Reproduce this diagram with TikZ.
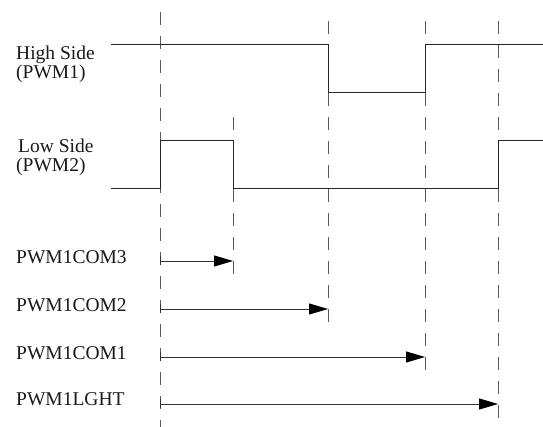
\documentclass[tikz,border=0pt]{standalone}
\usepackage{fontspec}
\setmainfont{Liberation Serif}
\usetikzlibrary{arrows.meta}
\begin{document}
\begin{tikzpicture}[x=1pt,y=1pt,
 sig/.style={line width=1pt, color=black!85},
 guide/.style={line width=1pt, color=black!65, dash pattern=on 13pt off 11pt},
 lbl/.style={font=\fontsize{19.5}{18.7}\selectfont, anchor=base west, inner sep=0pt, color=black!90},
 span/.style={line width=0.9pt, color=black!80, {Bar[width=9pt]}-{Triangle[length=19pt,width=11pt,color=black]}}]
\useasboundingbox (0,0) rectangle (543,427);
% guide lines
\coordinate (g1t) at (160,415); \coordinate (g1b) at (160,0);
\coordinate (g2t) at (233,310); \coordinate (g2b) at (233,142);
\coordinate (g3t) at (328,406); \coordinate (g3b) at (328,94);
\coordinate (g4t) at (425,406); \coordinate (g4b) at (425,47);
\coordinate (g5t) at (498,406); \coordinate (g5b) at (498,0);
\draw[guide] (g1t) -- (g1b);
\draw[guide] (g2t) -- (g2b);
\draw[guide] (g3t) -- (g3b);
\draw[guide] (g4t) -- (g4b);
\draw[guide] (g5t) -- (g5b);
% labels
\node[lbl] (hs) at (16,367) {High Side};
\node[lbl] (hs2) at (16,348.3) {(PWM1)};
\node[lbl] (ls) at (18,274.3) {Low Side};
\node[lbl] (ls2) at (16,255.3) {(PWM2)};
\node[lbl] (c3) at (16,163.7) {PWM1COM3};
\node[lbl] (c2) at (16,115.3) {PWM1COM2};
\node[lbl] (c1) at (16,67.7) {PWM1COM1};
\node[lbl] (lg) at (16,21.3) {PWM1LGHT};
% high side waveform
\coordinate (h0) at (111,382);
\draw[sig] (h0) -- (328,382) -- (328,334) -- (425,334) -- (425,382) -- (543,382);
% low side waveform
\coordinate (l0) at (111,238);
\draw[sig] (l0) -- (160,238) -- (160,286) -- (233,286) -- (233,238) -- (498,238) -- (498,286) -- (543,286);
% spans
\coordinate (a3s) at (160,166); \coordinate (a3e) at (233,166);
\coordinate (a2s) at (160,118); \coordinate (a2e) at (328,118);
\coordinate (a1s) at (160,70); \coordinate (a1e) at (425,70);
\coordinate (a0s) at (160,23); \coordinate (a0e) at (498,23);
\draw[span] (a3s) -- (a3e);
\draw[span] (a2s) -- (a2e);
\draw[span] (a1s) -- (a1e);
\draw[span] (a0s) -- (a0e);
\end{tikzpicture}
\end{document}
